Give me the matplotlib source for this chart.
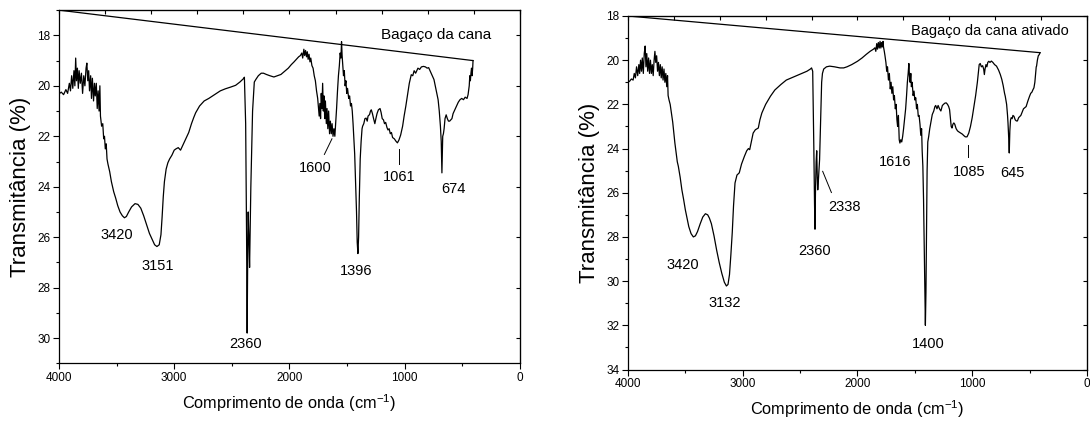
import matplotlib
matplotlib.use("Agg")
import matplotlib.pyplot as plt
from matplotlib.ticker import MultipleLocator

plt.rcParams['font.family'] = ['Liberation Sans', 'DejaVu Sans']
plt.rcParams['mathtext.fontset'] = 'custom'
plt.rcParams['mathtext.rm'] = 'Liberation Sans'
plt.rcParams['mathtext.it'] = 'Liberation Sans'

# Bagaço da cana (left panel): wavenumber, transmittance
wn1 = [4000, 3980, 3960, 3940, 3925, 3910, 3900, 3890, 3880, 3870, 3862, 3855, 3848, 3840, 3832,
       3825, 3815, 3805, 3795, 3785, 3775, 3765, 3758, 3750, 3742, 3735, 3725, 3718, 3710, 3700,
       3692, 3685, 3676, 3668, 3660, 3652, 3645, 3640, 3630, 3620, 3612, 3605, 3598, 3590, 3583,
       3575, 3560, 3545, 3525, 3508, 3490, 3470, 3450, 3432, 3415, 3395, 3370, 3340, 3315, 3290,
       3265, 3240, 3215, 3190, 3170, 3150, 3130, 3115, 3105, 3095, 3085, 3070, 3055, 3040, 3020,
       3000, 2985, 2965, 2945, 2930, 2910, 2890, 2874, 2850, 2830, 2814, 2780, 2740, 2700, 2650,
       2600, 2557, 2510, 2467, 2430, 2400, 2391, 2380, 2372, 2367, 2362, 2358, 2352, 2346, 2335,
       2320, 2305, 2292, 2270, 2245, 2225, 2200, 2170, 2135, 2105, 2074, 2040, 2010, 1984, 1960,
       1940, 1920, 1905, 1893, 1885, 1875, 1868, 1860, 1852, 1845, 1838, 1830, 1822, 1815, 1805,
       1795, 1785, 1775, 1765, 1755, 1748, 1742, 1736, 1730, 1724, 1718, 1712, 1706, 1700, 1694,
       1688, 1680, 1674, 1667, 1660, 1652, 1645, 1637, 1630, 1622, 1614, 1606, 1598, 1591, 1583,
       1575, 1567, 1560, 1553, 1548, 1543, 1537, 1531, 1524, 1517, 1510, 1503, 1496, 1486, 1478,
       1470, 1462, 1455, 1448, 1440, 1434, 1426, 1418, 1412, 1406, 1400, 1394, 1386, 1378, 1370,
       1365, 1355, 1345, 1335, 1325, 1318, 1305, 1297, 1290, 1280, 1270, 1259, 1250, 1240, 1228,
       1214, 1205, 1195, 1184, 1175, 1165, 1154, 1145, 1135, 1125, 1115, 1105, 1090, 1075, 1063,
       1050, 1035, 1018, 1005, 990, 973, 960, 950, 943, 930, 918, 905, 897, 885, 870,
       855, 837, 820, 805, 792, 775, 760, 746, 735, 722, 710, 700, 690, 683, 679,
       677, 674, 670, 664, 658, 650, 640, 630, 620, 610, 600, 590, 580, 565, 550,
       535, 520, 505, 490, 475, 459, 450, 440, 435, 430, 425, 420, 415, 410, 407]
tr1 = [20.32, 20.25, 20.35, 20.15, 20.3, 19.9, 20.2, 19.6, 20.1, 19.4, 20.0, 18.9, 19.8, 19.3, 20.1,
       19.4, 19.9, 19.5, 20.3, 19.6, 20.0, 19.3, 19.1, 19.8, 19.4, 20.2, 19.6, 20.5, 19.7, 20.6,
       19.9, 20.4, 19.9, 20.9, 20.2, 21.0, 20.0, 21.2, 21.6, 21.5, 22.1, 22.0, 22.5, 22.3, 22.9,
       23.1, 23.4, 23.8, 24.2, 24.45, 24.75, 25.0, 25.15, 25.23, 25.18, 25.0, 24.8, 24.67, 24.7, 24.85,
       25.15, 25.5, 25.85, 26.1, 26.3, 26.37, 26.3, 25.9, 25.2, 24.4, 23.8, 23.3, 23.05, 22.9, 22.75,
       22.55, 22.5, 22.45, 22.55, 22.4, 22.2, 22.0, 21.85, 21.5, 21.25, 21.07, 20.8, 20.6, 20.5, 20.35,
       20.2, 20.12, 20.05, 19.98, 19.85, 19.72, 19.66, 21.5, 26.0, 29.8, 26.5, 25.0, 26.0, 27.2, 24.0,
       21.0, 19.85, 19.75, 19.6, 19.5, 19.5, 19.55, 19.6, 19.65, 19.6, 19.55, 19.42, 19.3, 19.16, 19.05,
       18.95, 18.85, 18.8, 18.7, 18.9, 18.55, 18.8, 18.6, 18.85, 18.65, 18.95, 18.75, 19.05, 18.9, 19.2,
       19.3, 19.6, 19.8, 20.2, 20.5, 20.9, 21.2, 20.7, 21.3, 20.3, 20.9, 19.9, 21.0, 20.4, 21.3,
       20.6, 21.5, 20.9, 21.7, 21.0, 21.9, 21.4, 21.9, 21.5, 22.0, 21.7, 22.0, 21.4, 20.9, 20.2,
       19.6, 19.2, 18.7, 18.9, 18.25, 18.8, 19.2, 19.6, 19.4, 20.0, 19.8, 20.3, 20.1, 20.5, 20.4,
       20.8, 20.7, 21.0, 21.5, 22.2, 22.7, 23.8, 25.0, 26.2, 26.65, 26.0, 24.5, 22.9, 22.2, 21.7,
       21.6, 21.5, 21.3, 21.28, 21.4, 21.2, 21.14, 21.0, 20.95, 21.1, 21.3, 21.5, 21.3, 21.1, 20.95,
       20.9, 21.05, 21.3, 21.35, 21.5, 21.45, 21.65, 21.75, 21.7, 21.9, 21.85, 22.05, 22.1, 22.2, 22.26,
       22.15, 21.95, 21.6, 21.2, 20.8, 20.3, 19.9, 19.7, 19.56, 19.6, 19.4, 19.5, 19.42, 19.3, 19.35,
       19.25, 19.23, 19.25, 19.3, 19.28, 19.45, 19.6, 19.75, 20.0, 20.3, 20.55, 21.0, 21.6, 22.2, 23.0,
       23.45, 22.8, 22.0, 21.9, 21.7, 21.3, 21.15, 21.3, 21.4, 21.4, 21.35, 21.3, 21.1, 20.95, 20.8,
       20.65, 20.55, 20.5, 20.55, 20.45, 20.5, 20.35, 20.0, 19.6, 19.8, 19.5, 19.3, 19.6, 19.3, 19.0]
base1_x = [407, 4000]
base1_y = [19.0, 17.0]

# Bagaço da cana ativado (right panel)
wn2 = [4000, 3985, 3970, 3955, 3945, 3935, 3925, 3915, 3905, 3898, 3890, 3882, 3875, 3866, 3858,
       3850, 3843, 3836, 3828, 3820, 3812, 3804, 3796, 3788, 3780, 3772, 3765, 3758, 3750, 3742,
       3734, 3726, 3718, 3710, 3702, 3694, 3686, 3678, 3670, 3662, 3655, 3650, 3642, 3632, 3621,
       3610, 3600, 3591, 3580, 3570, 3561, 3545, 3530, 3515, 3500, 3485, 3470, 3450, 3430, 3412,
       3394, 3370, 3348, 3325, 3305, 3290, 3273, 3250, 3227, 3205, 3182, 3160, 3142, 3128, 3115,
       3103, 3091, 3080, 3067, 3050, 3030, 3010, 2985, 2965, 2950, 2939, 2925, 2909, 2890, 2864,
       2850, 2833, 2800, 2758, 2720, 2667, 2620, 2576, 2530, 2485, 2440, 2410, 2400, 2390, 2380,
       2374, 2370, 2366, 2360, 2355, 2350, 2346, 2340, 2330, 2320, 2312, 2305, 2294, 2270, 2242,
       2200, 2152, 2120, 2091, 2050, 2000, 1960, 1924, 1890, 1860, 1848, 1840, 1832, 1825, 1818,
       1810, 1803, 1796, 1790, 1783, 1777, 1773, 1766, 1760, 1752, 1745, 1738, 1730, 1722, 1714,
       1707, 1700, 1692, 1685, 1678, 1670, 1663, 1656, 1650, 1643, 1636, 1630, 1622, 1614, 1606,
       1598, 1590, 1580, 1572, 1565, 1558, 1552, 1547, 1541, 1535, 1530, 1523, 1515, 1507, 1500,
       1492, 1485, 1478, 1470, 1463, 1455, 1448, 1441, 1436, 1430, 1424, 1418, 1412, 1408, 1403,
       1398, 1393, 1387, 1379, 1370, 1360, 1348, 1335, 1325, 1318, 1307, 1297, 1285, 1273, 1260,
       1250, 1240, 1227, 1215, 1205, 1197, 1190, 1183, 1176, 1168, 1160, 1152, 1140, 1128, 1115,
       1100, 1085, 1076, 1060, 1045, 1030, 1015, 1000, 985, 970, 955, 945, 939, 930, 920,
       909, 900, 894, 888, 880, 872, 864, 855, 845, 833, 820, 805, 788, 770, 755,
       742, 730, 718, 712, 700, 692, 688, 682, 677, 672, 666, 660, 652, 645, 636,
       625, 615, 606, 595, 585, 576, 565, 553, 542, 530, 515, 500, 490, 480, 470,
       462, 454, 447, 442, 439, 432, 424, 416, 409]
tr2 = [21.0, 20.95, 20.85, 20.9, 20.6, 20.8, 20.3, 20.7, 20.2, 20.6, 20.0, 20.5, 19.9, 20.6, 19.7,
       19.36, 20.3, 19.7, 20.5, 19.9, 20.6, 20.0, 20.6, 20.2, 20.7, 20.0, 19.6, 20.1, 19.8, 20.5,
       20.1, 20.7, 20.2, 20.8, 20.3, 20.9, 20.4, 21.0, 20.6, 21.2, 20.7, 21.6, 21.8, 22.0, 22.4,
       22.8, 23.3, 23.75, 24.2, 24.6, 24.8, 25.3, 25.87, 26.3, 26.77, 27.15, 27.53, 27.85, 28.0, 27.95,
       27.76, 27.4, 27.1, 26.95, 27.0, 27.15, 27.4, 27.95, 28.6, 29.15, 29.65, 30.05, 30.22, 30.15, 29.7,
       28.8, 27.8, 26.6, 25.56, 25.2, 25.1, 24.7, 24.35, 24.1, 24.0, 24.05, 23.7, 23.3, 23.15, 23.07,
       22.7, 22.39, 22.0, 21.63, 21.35, 21.1, 20.9, 20.8, 20.7, 20.6, 20.5, 20.4, 20.35, 20.5, 24.0,
       26.5, 27.65, 26.0, 24.6, 24.1, 25.3, 25.87, 25.4, 24.5, 22.5, 21.0, 20.6, 20.4, 20.3, 20.27,
       20.3, 20.35, 20.35, 20.3, 20.2, 20.05, 19.9, 19.74, 19.6, 19.5, 19.44, 19.6, 19.25, 19.5, 19.2,
       19.45, 19.15, 19.45, 19.2, 19.4, 19.15, 19.4, 19.6, 19.8, 20.1, 20.5, 20.3, 20.9, 20.6, 21.3,
       21.0, 21.5, 21.2, 21.8, 21.6, 22.2, 22.0, 22.7, 23.0, 22.5, 23.6, 23.75, 23.6, 23.7, 23.45,
       23.1, 22.7, 22.2, 21.6, 21.0, 20.6, 20.15, 20.7, 21.0, 20.6, 21.2, 21.0, 21.6, 21.4, 21.8,
       21.7, 22.2, 22.0, 22.54, 22.5, 22.9, 23.4, 23.1, 24.1, 24.8, 26.3, 28.5, 31.0, 32.0, 30.5,
       27.5, 25.0, 23.7, 23.45, 23.1, 22.8, 22.46, 22.3, 22.1, 22.05, 22.2, 22.05, 22.2, 22.3, 22.05,
       22.0, 21.95, 21.93, 22.0, 22.1, 22.24, 22.6, 23.0, 23.07, 22.9, 22.84, 22.9, 23.1, 23.2, 23.25,
       23.3, 23.35, 23.4, 23.47, 23.47, 23.3, 23.0, 22.6, 22.1, 21.6, 21.0, 20.5, 20.2, 20.15, 20.3,
       20.25, 20.4, 20.65, 20.4, 20.2, 20.3, 20.1, 20.05, 20.1, 20.04, 20.1, 20.2, 20.27, 20.45, 20.65,
       20.87, 21.15, 21.5, 21.63, 22.0, 22.5, 22.84, 23.5, 24.2, 23.2, 22.7, 22.6, 22.65, 22.5, 22.54,
       22.7, 22.75, 22.75, 22.6, 22.55, 22.5, 22.35, 22.2, 22.15, 22.1, 21.85, 21.63, 21.5, 21.45, 21.33,
       21.25, 21.0, 20.6, 20.3, 20.27, 20.0, 19.8, 19.75, 19.66]
base2_x = [409, 4000]
base2_y = [19.66, 18.0]

# peak labels: text, x, y
labels1 = [("3420", 3502, 25.9), ("3151", 3140, 27.15), ("2360", 2382, 30.25),
           ("1600", 1772, 23.25), ("1396", 1425, 27.35), ("1061", 1048, 23.6), ("674", 574, 24.1)]
labels2 = [("3420", 3524, 29.25), ("3132", 3158, 31.0), ("2360", 2370, 28.65), ("2338", 2112, 26.65),
           ("1616", 1676, 24.6), ("1400", 1385, 32.85), ("1085", 1024, 25.05), ("645", 652, 25.1)]
leaders1 = [([1697, 1631], [22.72, 22.1]), ([1048, 1048], [22.52, 23.08])]
leaders2 = [([2303, 2227], [25.03, 25.99]), ([1039, 1039], [23.85, 24.38])]

fig = plt.figure(figsize=(10.9, 4.22), dpi=100)
ax1 = fig.add_axes([0.0541, 0.139, 0.4229, 0.837])
ax2 = fig.add_axes([0.5761, 0.1244, 0.4211, 0.8377])


def style(ax, ylo, yhi, yticks):
    ax.set_xlim(4000, 0)
    ax.set_ylim(yhi, ylo)
    ax.set_xticks([4000, 3000, 2000, 1000, 0])
    ax.set_yticks(yticks)
    ax.xaxis.set_minor_locator(MultipleLocator(500))
    ax.yaxis.set_minor_locator(MultipleLocator(1))
    ax.tick_params(which='major', direction='out', length=4, width=0.8, labelsize=8.5, pad=2)
    ax.tick_params(which='minor', direction='out', length=2.5, width=0.8)
    for s in ax.spines.values():
        s.set_linewidth(0.9)
    ax.set_xlabel("Comprimento de onda (cm$^{-1}$)", fontsize=11.8, labelpad=6)
    ax.set_ylabel("Transmitância (%)", fontsize=16, labelpad=5)
    # mirrored inward ticks on top and right
    top = ax.secondary_xaxis('top')
    top.set_xticks(range(0, 4001, 400))
    top.tick_params(direction='in', length=3, width=0.8, labeltop=False)
    right = ax.secondary_yaxis('right')
    right.tick_params(direction='in', length=3, width=0.8, labelright=False)


style(ax1, 17, 31, [18, 20, 22, 24, 26, 28, 30])
style(ax2, 18, 34, [18, 20, 22, 24, 26, 28, 30, 32, 34])

ax1.plot(wn1, tr1, color='black', lw=0.9)
ax1.plot(base1_x, base1_y, color='black', lw=0.9)
ax2.plot(wn2, tr2, color='black', lw=0.9)
ax2.plot(base2_x, base2_y, color='black', lw=0.9)

for t, x, y in labels1:
    ax1.text(x, y, t, ha='center', va='center', fontsize=10.5)
for t, x, y in labels2:
    ax2.text(x, y, t, ha='center', va='center', fontsize=10.5)
for xs, ys in leaders1:
    ax1.plot(xs, ys, color='black', lw=0.7)
for xs, ys in leaders2:
    ax2.plot(xs, ys, color='black', lw=0.7)

ax1.text(731, 18.0, "Bagaço da cana", ha='center', va='center', fontsize=11)
ax2.text(848, 18.68, "Bagaço da cana ativado", ha='center', va='center', fontsize=10.5)

fig.savefig("out.png", dpi=100)
